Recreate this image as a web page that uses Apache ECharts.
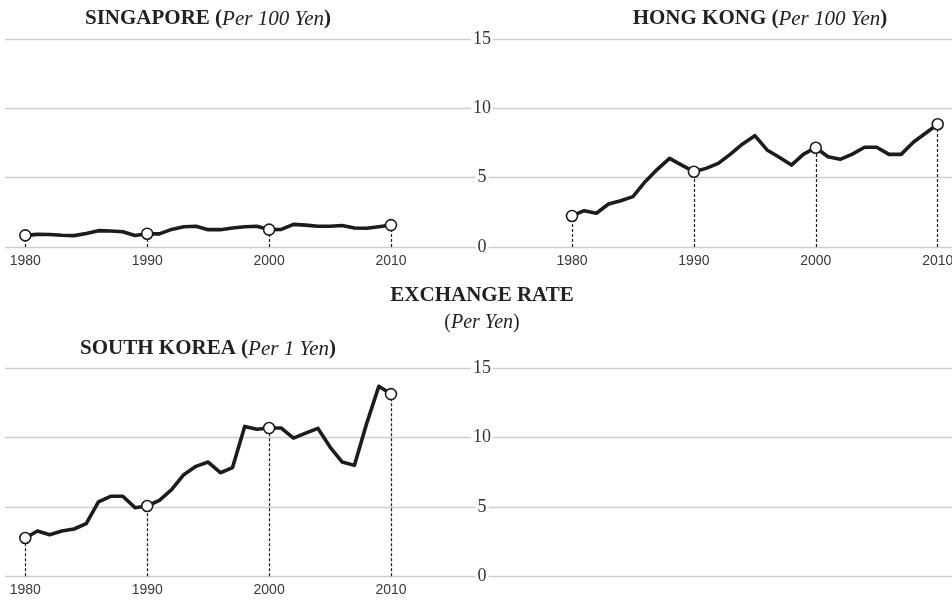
<!DOCTYPE html>
<html>
<head>
<meta charset="utf-8">
<script src="https://cdn.jsdelivr.net/npm/echarts@6/dist/echarts.min.js"></script>
<style>
  html, body { margin: 0; padding: 0; background: #fff; }
  #chart { width: 952px; height: 600px; }
</style>
</head>
<body>
<div id="chart"></div>
<script>
// Yearly exchange rates against the Japanese yen, 1980–2010
const years = [1980, 1981, 1982, 1983, 1984, 1985, 1986, 1987, 1988, 1989,
               1990, 1991, 1992, 1993, 1994, 1995, 1996, 1997, 1998, 1999,
               2000, 2001, 2002, 2003, 2004, 2005, 2006, 2007, 2008, 2009, 2010];

// Singapore dollars per 100 yen
const singapore = [0.84, 0.91, 0.90, 0.85, 0.82, 0.97, 1.18, 1.15, 1.10, 0.83,
                   0.96, 0.95, 1.27, 1.46, 1.50, 1.25, 1.25, 1.37, 1.46, 1.50,
                   1.25, 1.27, 1.63, 1.58, 1.50, 1.50, 1.55, 1.37, 1.35, 1.46, 1.58];

// Hong Kong dollars per 100 yen
const hongKong = [2.24, 2.62, 2.43, 3.10, 3.34, 3.63, 4.71, 5.60, 6.39, 5.91,
                  5.43, 5.67, 6.03, 6.70, 7.43, 8.03, 7.00, 6.47, 5.91, 6.70,
                  7.16, 6.51, 6.32, 6.70, 7.19, 7.19, 6.68, 6.68, 7.55, 8.20, 8.85];

// South Korean won per 1 yen
const southKorea = [2.76, 3.27, 3.00, 3.27, 3.41, 3.80, 5.36, 5.77, 5.77, 4.95,
                    5.07, 5.48, 6.25, 7.33, 7.93, 8.24, 7.47, 7.84, 10.81, 10.60,
                    10.69, 10.69, 9.97, 10.33, 10.67, 9.32, 8.24, 8.00, 11.01, 13.70, 13.14];

const markedYears = [1980, 1990, 2000, 2010];
const yearTickLabels = ['1980', '1990', '2000', '2010'];
const rateTickLabels = ['0', '5', '10', '15'];

const titleSingapore = 'SINGAPORE';
const titleHongKong = 'HONG KONG';
const titleKorea = 'SOUTH KOREA';
const unitPer100 = 'Per 100 Yen';
const unitPer1 = 'Per 1 Yen';
const headline = 'EXCHANGE RATE';
const headlineUnit = 'Per Yen';

// ---- layout ----
const WIDTH = 952;
const MID = 482;               // shared value-axis label column
const ROW_TOPS = [39, 368.3];
const ROW_HEIGHT = 208;
const LEFT_EDGE = 5;
const LEFT_X1980 = 25.3, LEFT_X2010 = 391;
const RIGHT_X1980 = 572;
const PX_PER_YEAR = (LEFT_X2010 - LEFT_X1980) / 30;

const INK = '#1c1c1c';
const GRID_COLOR = '#cdcdcd';
const SERIF = '"Liberation Serif", "DejaVu Serif", serif';
const SANS = '"Liberation Sans", Arial, sans-serif';

const rateMax = Number(rateTickLabels[rateTickLabels.length - 1]);
const rateStep = Number(rateTickLabels[1]) - Number(rateTickLabels[0]);

function leftRange() {
  return {
    min: markedYears[0] - (LEFT_X1980 - LEFT_EDGE) / PX_PER_YEAR,
    max: markedYears[0] + (MID - LEFT_X1980) / PX_PER_YEAR
  };
}
function rightRange() {
  return {
    min: markedYears[0] - (RIGHT_X1980 - MID) / PX_PER_YEAR,
    max: markedYears[0] + (WIDTH - RIGHT_X1980) / PX_PER_YEAR
  };
}

const panels = [
  { grid: { left: LEFT_EDGE, width: MID - LEFT_EDGE, top: ROW_TOPS[0], height: ROW_HEIGHT }, range: leftRange(), values: singapore, yLabels: false },
  { grid: { left: MID, width: WIDTH - MID, top: ROW_TOPS[0], height: ROW_HEIGHT }, range: rightRange(), values: hongKong, yLabels: true },
  { grid: { left: LEFT_EDGE, width: MID - LEFT_EDGE, top: ROW_TOPS[1], height: ROW_HEIGHT }, range: leftRange(), values: southKorea, yLabels: false },
  { grid: { left: MID, width: WIDTH - MID, top: ROW_TOPS[1], height: ROW_HEIGHT }, range: rightRange(), values: null, yLabels: true }
];

const grid = panels.map(p => Object.assign({ containLabel: false, outerBoundsMode: 'none' }, p.grid));

const xAxis = panels.map((p, i) => ({
  type: 'value',
  gridIndex: i,
  min: p.range.min,
  max: p.range.max,
  axisLine: { show: false },
  axisTick: { show: false },
  splitLine: { show: false },
  axisLabel: {
    show: !!p.values,
    customValues: markedYears,
    formatter: v => yearTickLabels[markedYears.indexOf(Math.round(v))] || '',
    margin: 7,
    fontFamily: SANS,
    fontSize: 14,
    color: '#3a3a3a'
  }
}));

const yAxis = panels.map((p, i) => ({
  type: 'value',
  gridIndex: i,
  min: 0,
  max: rateMax,
  interval: rateStep,
  axisLine: { show: false },
  axisTick: { show: false },
  splitLine: { show: true, lineStyle: { color: GRID_COLOR, width: 1.3 } },
  axisLabel: {
    show: p.yLabels,
    margin: 0,
    align: 'center',
    verticalAlign: 'middle',
    backgroundColor: '#fff',
    padding: [0, 2],
    formatter: v => rateTickLabels[Math.round(v / rateStep)],
    fontFamily: SERIF,
    fontSize: 18,
    color: '#333'
  }
}));

const series = [];
panels.forEach((p, i) => {
  if (!p.values) return;
  const pts = years.map((y, k) => [y, p.values[k]]);
  const marked = markedYears.map(y => [y, p.values[years.indexOf(y)]]);
  series.push({
    type: 'line',
    xAxisIndex: i,
    yAxisIndex: i,
    data: pts,
    symbol: 'none',
    smooth: false,
    lineStyle: { color: INK, width: 3.6, join: 'round', cap: 'round' },
    silent: true,
    z: 3,
    markLine: {
      silent: true,
      symbol: ['none', 'none'],
      label: { show: false },
      lineStyle: { color: INK, width: 1.2, type: [3, 2] },
      data: marked.map(m => [{ coord: [m[0], 0] }, { coord: m }])
    }
  });
  series.push({
    type: 'scatter',
    xAxisIndex: i,
    yAxisIndex: i,
    data: marked,
    symbol: 'circle',
    symbolSize: 11,
    itemStyle: { color: '#fff', borderColor: INK, borderWidth: 1.6, opacity: 1 },
    silent: true,
    z: 5
  });
});

function titleText(name, unit, x, y) {
  return {
    type: 'text',
    x: x, y: y,
    style: {
      text: '{b|' + name + ' (}{i|' + unit + '}{b|)}',
      align: 'center',
      verticalAlign: 'middle',
      rich: {
        b: { fontFamily: SERIF, fontWeight: 'bold', fontSize: 21, fill: '#222' },
        i: { fontFamily: SERIF, fontStyle: 'italic', fontSize: 21, fill: '#222' }
      }
    }
  };
}

const graphic = [
  titleText(titleSingapore, unitPer100, 208, 19),
  titleText(titleHongKong, unitPer100, 760, 19),
  titleText(titleKorea, unitPer1, 208, 349),
  {
    type: 'text', x: MID, y: 296,
    style: { text: headline, align: 'center', verticalAlign: 'middle',
             font: 'bold 21px ' + SERIF, fill: '#222' }
  },
  {
    type: 'text', x: MID, y: 323,
    style: {
      text: '{r|(}{i|' + headlineUnit + '}{r|)}',
      align: 'center', verticalAlign: 'middle',
      rich: {
        r: { fontFamily: SERIF, fontSize: 20, fill: '#222' },
        i: { fontFamily: SERIF, fontStyle: 'italic', fontSize: 20, fill: '#222' }
      }
    }
  }
];

const chart = echarts.init(document.getElementById('chart'), null, { renderer: 'canvas' });
chart.setOption({
  animation: false,
  backgroundColor: '#fff',
  grid, xAxis, yAxis, series, graphic
});
</script>
</body>
</html>
